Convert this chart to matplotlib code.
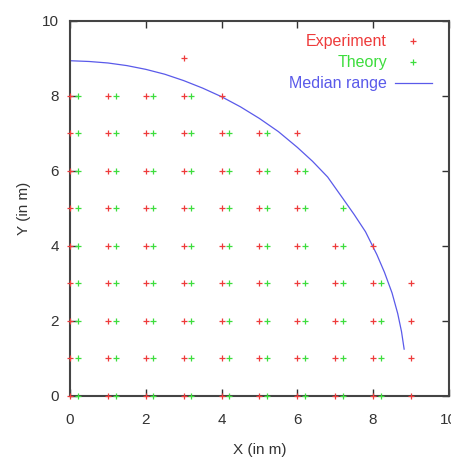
import matplotlib
matplotlib.use("Agg")
import matplotlib.pyplot as plt

plt.rcParams['font.family'] = ['Liberation Sans', 'DejaVu Sans']

# Experiment points: y value of each row and the x values in that row
exp_rows_y = [0, 1, 2, 3, 4, 5, 6, 7, 8, 9]
exp_rows_x = [
    [0, 1, 2, 3, 4, 5, 6, 7, 8, 9],
    [0, 1, 2, 3, 4, 5, 6, 7, 8, 9],
    [0, 1, 2, 3, 4, 5, 6, 7, 8, 9],
    [0, 1, 2, 3, 4, 5, 6, 7, 8, 9],
    [0, 1, 2, 3, 4, 5, 6, 7, 8],
    [0, 1, 2, 3, 4, 5, 6],
    [0, 1, 2, 3, 4, 5, 6],
    [0, 1, 2, 3, 4, 5, 6],
    [0, 1, 2, 3, 4],
    [3],
]

# Theory points
th_rows_y = [0, 1, 2, 3, 4, 5, 6, 7, 8]
th_rows_x = [
    [0.2, 1.2, 2.2, 3.2, 4.2, 5.2, 6.2, 7.2, 8.2],
    [0.2, 1.2, 2.2, 3.2, 4.2, 5.2, 6.2, 7.2, 8.2],
    [0.2, 1.2, 2.2, 3.2, 4.2, 5.2, 6.2, 7.2, 8.2],
    [0.2, 1.2, 2.2, 3.2, 4.2, 5.2, 6.2, 7.2, 8.2],
    [0.2, 1.2, 2.2, 3.2, 4.2, 5.2, 6.2, 7.2],
    [0.2, 1.2, 2.2, 3.2, 4.2, 5.2, 6.2, 7.2],
    [0.2, 1.2, 2.2, 3.2, 4.2, 5.2, 6.2],
    [0.2, 1.2, 2.2, 3.2, 4.2, 5.2],
    [0.2, 1.2, 2.2, 3.2],
]

# Median range curve
median_x = [0.0, 0.5, 1.0, 1.5, 2.0, 2.5, 3.0, 3.5, 4.0, 4.5, 5.0, 5.5,
            6.0, 6.4, 6.8, 7.2, 7.5, 7.8, 8.1, 8.3, 8.5, 8.65, 8.75, 8.82]
median_y = [8.94, 8.92, 8.88, 8.81, 8.71, 8.58, 8.41, 8.21, 7.98, 7.71, 7.40, 7.05,
            6.63, 6.26, 5.84, 5.27, 4.84, 4.38, 3.77, 3.30, 2.75, 2.20, 1.72, 1.25]

x_ticks = [0, 2, 4, 6, 8, 10]
y_ticks = [0, 2, 4, 6, 8, 10]

exp_x = [x for row in exp_rows_x for x in row]
exp_y = [y for y, row in zip(exp_rows_y, exp_rows_x) for _ in row]
th_x = [x for row in th_rows_x for x in row]
th_y = [y for y, row in zip(th_rows_y, th_rows_x) for _ in row]

red = '#ee3b3b'
green = '#3ddd3d'
blue = '#5a5aea'

fig = plt.figure(figsize=(4.52, 4.61), dpi=100)
ax = fig.add_axes([0.155, 0.141, 0.838, 0.8135])

ax.plot(exp_x, exp_y, linestyle='none', marker='+', markersize=4.5, markeredgewidth=0.9,
        color=red, label='Experiment', clip_on=False, zorder=3)
ax.plot(th_x, th_y, linestyle='none', marker='+', markersize=4.5, markeredgewidth=0.9,
        color=green, label='Theory', clip_on=False, zorder=3)
ax.plot(median_x, median_y, color=blue, linewidth=0.9, label='Median range', zorder=2)

ax.set_xlim(0, 10)
ax.set_ylim(0, 10)
ax.set_xticks(x_ticks)
ax.set_yticks(y_ticks)
ax.tick_params(direction='in', length=5, width=1, top=True, right=True,
               labelsize=11, colors='#333333', pad=8)
ax.tick_params(axis='x', pad=12)
for s in ax.spines.values():
    s.set_linewidth(1.5)
    s.set_color('#444444')

ax.set_xlabel('X (in m)', fontsize=11, color='#333333', labelpad=12)
ax.set_ylabel('Y (in m)', fontsize=11, color='#333333', labelpad=8)

leg = ax.legend(loc='upper right', bbox_to_anchor=(0.972, 0.982), borderaxespad=0,
                markerfirst=False, frameon=False, fontsize=11.5,
                labelcolor='linecolor', handlelength=2.3, handletextpad=0.5,
                labelspacing=0.38, markerscale=1.0)

fig.savefig('out.png', dpi=100)
